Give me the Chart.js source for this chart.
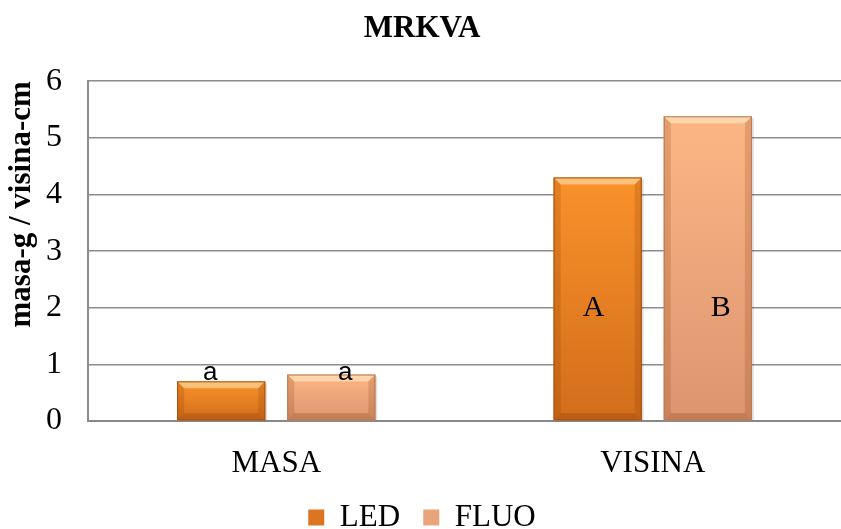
<!DOCTYPE html>
<html>
<head>
<meta charset="utf-8">
<script src="https://cdn.jsdelivr.net/npm/chart.js@4.4.1/dist/chart.umd.min.js"></script>
<style>
  body { margin: 0; background: #fff; }
  #wrap { width: 841px; height: 529px; }
</style>
</head>
<body>
<div id="wrap"><canvas id="myChart"></canvas></div>
<script>
const categories = ['MASA', 'VISINA'];
const ledValues = [0.70, 4.3];
const fluoValues = [0.82, 5.38];
const ledLetters = ['a', 'A'];
const fluoLetters = ['a', 'B'];
const yTicks = [0, 1, 2, 3, 4, 5, 6];

const serif = '"Liberation Serif", "Times New Roman", serif';

// top / bottom colours for each series, for the bevelled look
const shades = [
  { top: '#f9922a', bottom: '#d26d1b', edge: '#a9520f' },
  { top: '#fcb685', bottom: '#dc9570', edge: '#b77a5a' },
];

const bevel = {
  id: 'bevel',
  afterDatasetsDraw(chart) {
    const ctx = chart.ctx;
    ctx.save();
    chart.data.datasets.forEach((ds, di) => {
      const s = shades[di];
      chart.getDatasetMeta(di).data.forEach((bar) => {
        const l = bar.x - bar.width / 2, r = bar.x + bar.width / 2;
        const t = bar.y, b = bar.base;
        const d = 7;
        // soft shadow
        ctx.fillStyle = 'rgba(0,0,0,0.12)';
        ctx.fillRect(l + 2, t + 2, r - l, b - t - 2);
        const g = ctx.createLinearGradient(0, t, 0, b);
        g.addColorStop(0, s.top);
        g.addColorStop(1, s.bottom);
        ctx.fillStyle = g;
        ctx.fillRect(l, t, r - l, b - t);
        // highlight on top edge
        ctx.fillStyle = 'rgba(255,255,220,0.45)';
        ctx.beginPath();
        ctx.moveTo(l, t); ctx.lineTo(r, t); ctx.lineTo(r - d, t + d); ctx.lineTo(l + d, t + d);
        ctx.closePath(); ctx.fill();
        // darker sides and bottom
        ctx.fillStyle = 'rgba(120,50,0,0.18)';
        ctx.beginPath();
        ctx.moveTo(l, t); ctx.lineTo(l + d, t + d); ctx.lineTo(l + d, b - d); ctx.lineTo(l, b);
        ctx.closePath(); ctx.fill();
        ctx.beginPath();
        ctx.moveTo(r, t); ctx.lineTo(r - d, t + d); ctx.lineTo(r - d, b - d); ctx.lineTo(r, b);
        ctx.closePath(); ctx.fill();
        ctx.fillStyle = 'rgba(120,50,0,0.25)';
        ctx.beginPath();
        ctx.moveTo(l, b); ctx.lineTo(l + d, b - d); ctx.lineTo(r - d, b - d); ctx.lineTo(r, b);
        ctx.closePath(); ctx.fill();
        ctx.strokeStyle = s.edge;
        ctx.lineWidth = 1;
        ctx.strokeRect(l + 0.5, t + 0.5, r - l - 1, b - t - 1);
      });
    });
    ctx.restore();
  }
};

// small letters sit just above the short bars, capitals in the middle of the tall ones
const letters = {
  id: 'letters',
  afterDatasetsDraw(chart) {
    const ctx = chart.ctx;
    const sets = [ledLetters, fluoLetters];
    const shiftSmall = [-11, 14];
    const shiftBig = [-4, 13];
    const y = chart.scales.y;
    ctx.save();
    ctx.fillStyle = '#000';
    ctx.textAlign = 'center';
    sets.forEach((labs, di) => {
      chart.getDatasetMeta(di).data.forEach((bar, i) => {
        if (i === 0) {
          ctx.font = '26px "Liberation Sans", Arial, sans-serif';
          ctx.textBaseline = 'alphabetic';
          ctx.fillText(labs[i], bar.x + shiftSmall[di], y.getPixelForValue(0.72));
        } else {
          ctx.font = '30px ' + serif;
          ctx.textBaseline = 'middle';
          ctx.fillText(labs[i], bar.x + shiftBig[di], y.getPixelForValue(2));
        }
      });
    });
    ctx.restore();
  }
};

const data = {
  labels: categories,
  datasets: [{
    label: 'LED',
    data: ledValues,
    backgroundColor: '#dc7520',
    borderWidth: 0,
  }, {
    label: 'FLUO',
    data: fluoValues,
    backgroundColor: '#e9a47a',
    borderWidth: 0,
  }]
};

const config = {
  type: 'bar',
  data: data,
  plugins: [bevel, letters],
  options: {
    responsive: true,
    maintainAspectRatio: false,
    animation: false,
    categoryPercentage: 0.585,
    barPercentage: 0.8,
    layout: { padding: { left: 3, right: 0, top: 0, bottom: -14 } },
    plugins: {
      title: {
        display: true,
        text: 'MRKVA',
        color: '#000',
        font: { family: serif, size: 31, weight: 'bold' },
        padding: { top: 10, bottom: 34 },
      },
      legend: {
        position: 'bottom',
        labels: {
          color: '#000',
          font: { family: serif, size: 31 },
          boxWidth: 16,
          boxHeight: 16,
          padding: 0,
          generateLabels: (chart) => {
            const items = Chart.defaults.plugins.legend.labels.generateLabels(chart);
            items.forEach((it, i) => { if (i === 0) it.text = it.text + '   '; });
            return items;
          },
        },
      },
      tooltip: { enabled: false },
    },
    scales: {
      x: {
        grid: { display: false },
        border: { color: '#888', width: 2 },
        afterFit: (scale) => { scale.height = 81; },
        ticks: {
          color: '#000',
          padding: 16,
          font: { family: serif, size: 31 },
        },
      },
      y: {
        min: 0,
        max: 6,
        afterBuildTicks: (axis) => { axis.ticks = yTicks.map(v => ({ value: v })); },
        afterFit: (scale) => { scale.width = 85; },
        grid: { color: '#8c8c8c', lineWidth: 1.5, drawTicks: false },
        border: { color: '#8c8c8c', width: 2 },
        ticks: {
          color: '#000',
          padding: 26,
          font: { family: serif, size: 32 },
        },
        title: {
          display: true,
          text: 'masa-g / visina-cm',
          align: 'end',
          color: '#000',
          padding: { top: 0, bottom: 5 },
          font: { family: serif, size: 31, weight: 'bold' },
        },
      },
    },
  },
};

const myChart = new Chart(document.getElementById('myChart'), config);
</script>
</body>
</html>
